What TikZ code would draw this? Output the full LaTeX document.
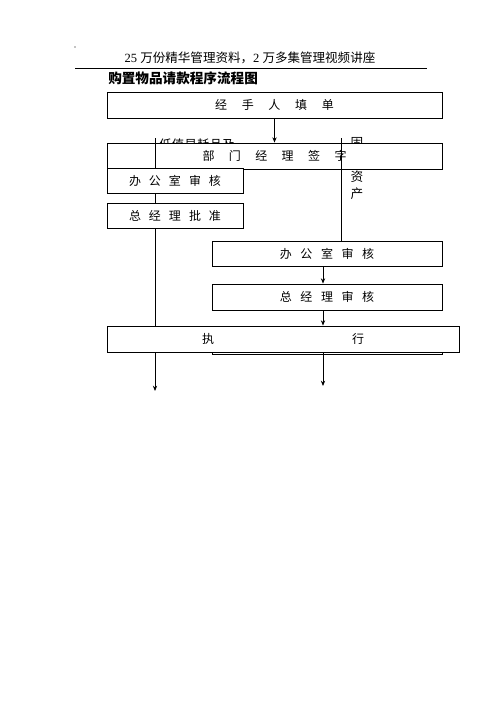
\documentclass[tikz,border=0pt]{standalone}
\usepackage{fontspec}
\setmainfont{Liberation Serif}
\newfontfamily\cjk{Noto Sans CJK SC}
\usetikzlibrary{arrows.meta}

\tikzset{
  box/.style={draw, fill=white, inner sep=0pt, line width=0.6pt,
    font=\cjk\fontsize{9pt}{11pt}\selectfont},
  link/.style={line width=0.6pt},
  arr/.style={line width=0.6pt, -{Stealth[length=4pt,width=3.2pt]}},
  note/.style={inner sep=0pt, font=\cjk\fontsize{9.5pt}{12.75pt}\selectfont}
}

\begin{document}
\begin{tikzpicture}[x=0.75pt,y=-0.75pt]
\useasboundingbox (0,0) rectangle (500,707);

% page header
\fill (75,47) circle (0.7);
\node[inner sep=0pt, font=\fontsize{9.4pt}{11pt}\selectfont] (header) at (250,58) {25 {\cjk 万份精华管理资料，}2 {\cjk 万多集管理视频讲座}};
\draw[line width=0.5pt] (75,68) -- (427,68);
\node[anchor=west, inner sep=0pt, font=\cjk\bfseries\fontsize{10.2pt}{12pt}\selectfont] (title) at (108,78) {购置物品请款程序流程图};

% branch labels (partly under the boxes)
\node[note] (lowvalue) at (197,144.5) {低值易耗品及};
\node[note, align=center] (fixed) at (357,169) {固\\定\\资\\产};
\coordinate (lowtop) at (155,138);
\coordinate (fixtop) at (341,138);

% boxes
\node[box, minimum width=251.25pt, minimum height=19.5pt] (fill) at (274.5,105) {经\hspace{11pt}手\hspace{11pt}人\hspace{11pt}填\hspace{11pt}单};
\node[box, minimum width=251.25pt, minimum height=19.5pt] (sign) at (274.5,156) {部\hspace{10.8pt}门\hspace{10.8pt}经\hspace{10.8pt}理\hspace{10.8pt}签\hspace{10.8pt}字};
\node[box, minimum width=102pt, minimum height=18.75pt] (office1) at (175,180.5) {办\hspace{6pt}公\hspace{6pt}室\hspace{6pt}审\hspace{6pt}核};
\node[box, minimum width=102pt, minimum height=18.75pt] (gm1) at (175,215.5) {总\hspace{6pt}经\hspace{6pt}理\hspace{6pt}批\hspace{6pt}准};
\node[box, minimum width=172.5pt, minimum height=18.75pt] (office2) at (327,253.5) {办\hspace{6.4pt}公\hspace{6.4pt}室\hspace{6.4pt}审\hspace{6.4pt}核};
\node[box, minimum width=172.5pt, minimum height=19.5pt] (gm2) at (327,297) {总\hspace{6.4pt}经\hspace{6.4pt}理\hspace{6.4pt}审\hspace{6.4pt}核};
\draw[link] (212,330) rectangle (442,354);
\node[box, minimum width=264pt, minimum height=19.5pt] (exec) at (283,339) {执\hspace{103.5pt}行};

% connectors
\draw[arr] (fill.south) -- (sign.north);
\draw[link] (lowtop) -- (lowtop |- office1.north);
\draw[link] (office1.south -| lowtop) -- (gm1.north -| lowtop);
\draw[link] (gm1.south -| lowtop) -- (exec.north -| lowtop);
\draw[link] (fixtop) -- (fixtop |- office2.north);
\draw[arr] ([xshift=-3pt]office2.south) -- ([xshift=-3pt]gm2.north);
\draw[arr] ([xshift=-3pt]gm2.south) -- ([xshift=-3pt]gm2.south |- exec.north);

% exits
\coordinate (endL) at (155,391);
\coordinate (endR) at (323,386);
\draw[arr] (exec.south -| endL) -- (endL);
\draw[arr] (exec.south -| endR) -- (endR);
\end{tikzpicture}
\end{document}
